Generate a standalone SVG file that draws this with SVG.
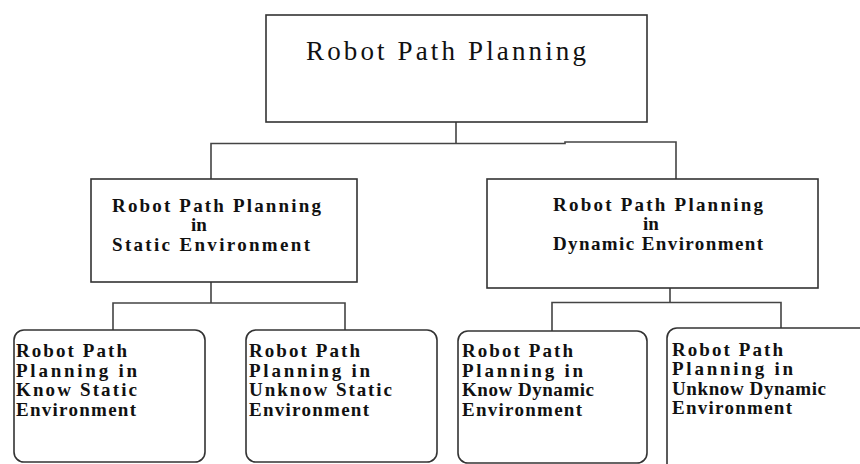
<svg xmlns="http://www.w3.org/2000/svg" width="860" height="464" viewBox="0 0 860 464">
<style>
.box{fill:#fff;stroke:#333;stroke-width:1.6}
.ln{fill:none;stroke:#444;stroke-width:1.6}
.t{font-family:"Liberation Serif","DejaVu Serif",serif;fill:#111}
.title{font-size:27px}
.mid{font-size:19px;font-weight:bold}
.leaf{font-size:19px;font-weight:bold}
</style>
<rect width="860" height="464" fill="#fff"/>
<g id="connectors">
<path class="ln" d="M456 122V143.5M211 179V143.5H565V142H676V179"/>
<path class="ln" d="M211 282V303M113 330V303H345V330"/>
<path class="ln" d="M670 288V302.5M552 331V302.5H781V328"/>
</g>
<g id="root">
<rect class="box" x="266" y="15" width="381" height="107"/>
<text class="t title" x="306" y="60" textLength="280" lengthAdjust="spacing">Robot Path Planning</text>
</g>
<g id="static">
<rect class="box" x="91" y="179" width="266" height="103"/>
<text class="t mid" x="112" y="212" textLength="209" lengthAdjust="spacing">Robot Path Planning</text>
<text class="t mid" x="191" y="231">in</text>
<text class="t mid" x="112" y="251" textLength="198" lengthAdjust="spacing">Static Environment</text>
</g>
<g id="dynamic">
<rect class="box" x="487" y="179" width="331" height="109"/>
<text class="t mid" x="553" y="211" textLength="210" lengthAdjust="spacing">Robot Path Planning</text>
<text class="t mid" x="643" y="230">in</text>
<text class="t mid" x="553" y="250" textLength="210" lengthAdjust="spacing">Dynamic Environment</text>
</g>
<g id="know-static">
<rect class="box" x="14" y="330" width="191" height="132" rx="10"/>
<text class="t leaf" x="16" y="357" textLength="111" lengthAdjust="spacing">Robot Path</text>
<text class="t leaf" x="16" y="377" textLength="121" lengthAdjust="spacing">Planning in</text>
<text class="t leaf" x="16" y="396" textLength="121" lengthAdjust="spacing">Know Static</text>
<text class="t leaf" x="16" y="416" textLength="120" lengthAdjust="spacing">Environment</text>
</g>
<g id="unknow-static">
<rect class="box" x="246" y="330" width="191" height="132" rx="10"/>
<text class="t leaf" x="249" y="357" textLength="111" lengthAdjust="spacing">Robot Path</text>
<text class="t leaf" x="249" y="377" textLength="121" lengthAdjust="spacing">Planning in</text>
<text class="t leaf" x="249" y="396" textLength="143" lengthAdjust="spacing">Unknow Static</text>
<text class="t leaf" x="249" y="416" textLength="120" lengthAdjust="spacing">Environment</text>
</g>
<g id="know-dynamic">
<rect class="box" x="458" y="331" width="189" height="132" rx="10"/>
<text class="t leaf" x="462" y="357" textLength="111" lengthAdjust="spacing">Robot Path</text>
<text class="t leaf" x="462" y="377" textLength="121" lengthAdjust="spacing">Planning in</text>
<text class="t leaf" x="462" y="396" textLength="132" lengthAdjust="spacing">Know Dynamic</text>
<text class="t leaf" x="462" y="416" textLength="120" lengthAdjust="spacing">Environment</text>
</g>
<g id="unknow-dynamic">
<rect class="box" x="667" y="328" width="220" height="150" rx="10"/>
<text class="t leaf" x="672" y="356" textLength="111" lengthAdjust="spacing">Robot Path</text>
<text class="t leaf" x="672" y="375" textLength="121" lengthAdjust="spacing">Planning in</text>
<text class="t leaf" x="672" y="395" textLength="154" lengthAdjust="spacing">Unknow Dynamic</text>
<text class="t leaf" x="672" y="414" textLength="120" lengthAdjust="spacing">Environment</text>
</g>
</svg>
